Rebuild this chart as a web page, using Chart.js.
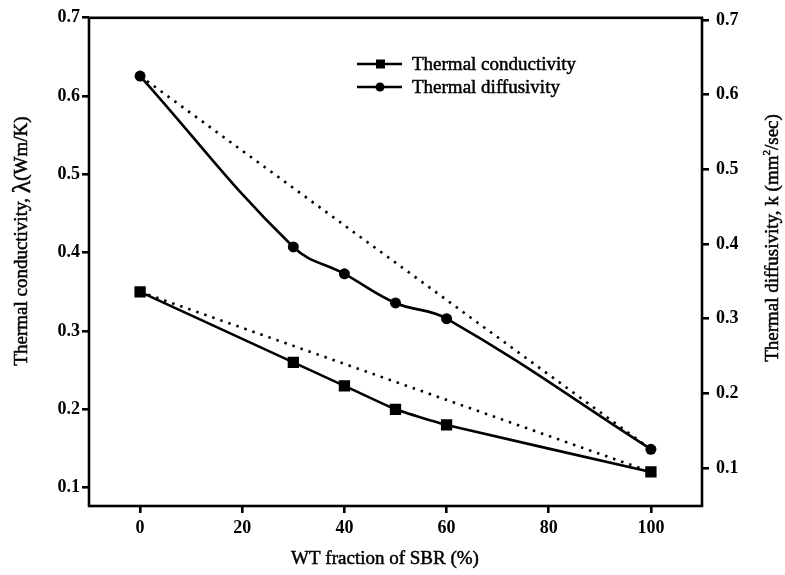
<!DOCTYPE html>
<html>
<head>
<meta charset="utf-8">
<script src="https://cdn.jsdelivr.net/npm/chart.js@4.4.1/dist/chart.umd.min.js"></script>
<style>
html,body{margin:0;padding:0;background:#fff}
#wrap{width:785px;height:575px}
</style>
</head>
<body>
<div id="wrap"><canvas id="chart" width="785" height="575"></canvas></div>
<script>
// ── data ──
const wtFraction   = [0, 30, 40, 50, 60, 100];
const conductivity = [0.35, 0.26, 0.23, 0.20, 0.18, 0.12];
const diffusivity  = [0.625, 0.396, 0.36, 0.321, 0.30, 0.125];
const xTicks     = [0, 20, 40, 60, 80, 100];
const leftTicks  = [0.1, 0.2, 0.3, 0.4, 0.5, 0.6, 0.7];
const rightTicks = [0.1, 0.2, 0.3, 0.4, 0.5, 0.6, 0.7];
const seriesNames = ['Thermal conductivity', 'Thermal diffusivity'];

const SERIF = '"Liberation Serif", "Times New Roman", serif';
const tickFont = { family: SERIF, size: 18, weight: 'bold' };
const TXT = '19px ' + SERIF;

const pts = (xs, ys) => xs.map((x, i) => ({ x, y: ys[i] }));
// straight mixing-rule line between the two pure components
const ends = ys => [{ x: wtFraction[0], y: ys[0] }, { x: wtFraction[wtFraction.length-1], y: ys[ys.length-1] }];

function fixTicks(list) {
  return s => { s.ticks = list.map(v => ({ value: v })); };
}

// frame round the plot
const framePlugin = {
  id: 'frame',
  afterDatasetsDraw(chart) {
    const a = chart.chartArea, ctx = chart.ctx;
    ctx.save();
    ctx.strokeStyle = '#000'; ctx.lineWidth = 2.6;
    ctx.strokeRect(a.left, a.top, a.right - a.left, a.bottom - a.top);
    ctx.restore();
  }
};

// text a little heavier, like the scanned original
function ink(ctx, t, x, y) {
  ctx.fillText(t, x, y);
  ctx.lineWidth = 0.5;
  ctx.strokeText(t, x, y);
}

// axis titles with the λ and the superscript 2
function drawRuns(ctx, runs, cx, cy) {
  let total = 0;
  runs.forEach(r => { ctx.font = r.font; total += ctx.measureText(r.t).width; });
  let x = cx - total / 2;
  runs.forEach(r => {
    ctx.font = r.font;
    ink(ctx, r.t, x, cy + (r.dy || 0));
    x += ctx.measureText(r.t).width;
  });
}
const titlePlugin = {
  id: 'titles',
  afterDraw(chart) {
    const ctx = chart.ctx;
    ctx.save();
    ctx.fillStyle = '#000'; ctx.strokeStyle = '#000';
    ctx.textBaseline = 'middle';
    ctx.textAlign = 'left';
    drawRuns(ctx, [{ t: 'WT fraction of SBR (%)', font: TXT }], 385, 559);

    ctx.save();
    ctx.translate(22, 241);
    ctx.rotate(-Math.PI / 2);
    drawRuns(ctx, [
      { t: 'Thermal conductivity, ', font: TXT },
      { t: 'λ', font: '26px ' + SERIF, dy: 1 },
      { t: '(Wm/K)', font: TXT }
    ], 0, 0);
    ctx.restore();

    ctx.save();
    ctx.translate(773, 238);
    ctx.rotate(-Math.PI / 2);
    drawRuns(ctx, [
      { t: 'Thermal diffusivity, k (mm', font: TXT },
      { t: '2', font: '11px ' + SERIF, dy: -6 },
      { t: '/sec)', font: TXT }
    ], 0, 0);
    ctx.restore();
    ctx.restore();
  }
};

// legend: line with marker, then label
const legendPlugin = {
  id: 'legendBox',
  afterDraw(chart) {
    const ctx = chart.ctx;
    const rows = [{ y: 64, style: 'rect' }, { y: 87, style: 'circle' }];
    ctx.save();
    ctx.strokeStyle = '#000'; ctx.fillStyle = '#000';
    rows.forEach((r, i) => {
      ctx.lineWidth = 2.6;
      ctx.beginPath(); ctx.moveTo(357, r.y); ctx.lineTo(402, r.y); ctx.stroke();
      if (r.style === 'rect') ctx.fillRect(376, r.y - 4.5, 9, 9);
      else { ctx.beginPath(); ctx.arc(380, r.y, 4.5, 0, Math.PI * 2); ctx.fill(); }
      ctx.font = TXT;
      ctx.textBaseline = 'middle';
      ink(ctx, seriesNames[i], 412, r.y + 1);
    });
    ctx.restore();
  }
};

const axisCommon = {
  type: 'linear',
  border: { display: false },
  grid: { drawOnChartArea: false, drawTicks: true, tickLength: 7, tickWidth: 2.6, lineWidth: 2.6, color: '#000' },
};

new Chart(document.getElementById('chart'), {
  type: 'line',
  data: {
    datasets: [
      {
        label: seriesNames[0], yAxisID: 'y',
        data: pts(wtFraction, conductivity),
        borderColor: '#000', backgroundColor: '#000', borderWidth: 2.6,
        pointStyle: 'rect', pointRadius: 8, pointBorderWidth: 0,
        tension: 0.15
      },
      {
        label: seriesNames[1], yAxisID: 'y2',
        data: pts(wtFraction, diffusivity),
        borderColor: '#000', backgroundColor: '#000', borderWidth: 2.6,
        pointStyle: 'circle', pointRadius: 5.5, pointBorderWidth: 0,
        tension: 0.4
      },
      {
        label: 'rule-cond', yAxisID: 'y',
        data: ends(conductivity),
        borderColor: '#000', borderWidth: 2.6, borderDash: [2.5, 6], pointRadius: 0
      },
      {
        label: 'rule-diff', yAxisID: 'y2',
        data: ends(diffusivity),
        borderColor: '#000', borderWidth: 2.6, borderDash: [2.5, 6], pointRadius: 0
      }
    ]
  },
  options: {
    responsive: false,
    animation: false,
    devicePixelRatio: 1,
    layout: { padding: { top: 16, left: 0, right: 0, bottom: 0 } },
    plugins: { legend: { display: false }, tooltip: { enabled: false } },
    scales: {
      x: {
        ...axisCommon, position: 'bottom', min: -10, max: 110,
        afterBuildTicks: fixTicks(xTicks),
        afterFit: s => { s.height = 69; },
        ticks: { font: tickFont, color: '#000', padding: 5, maxRotation: 0 }
      },
      y: {
        ...axisCommon, position: 'left', min: 0.0765, max: 0.7,
        afterBuildTicks: fixTicks(leftTicks),
        afterFit: s => { s.width = 89; },
        ticks: { font: tickFont, color: '#000', padding: 2, callback: v => v.toFixed(1) }
      },
      y2: {
        ...axisCommon, position: 'right', min: 0.049, max: 0.703,
        afterBuildTicks: fixTicks(rightTicks),
        afterFit: s => { s.width = 83; },
        ticks: { font: tickFont, color: '#000', padding: 7, callback: v => v.toFixed(1) }
      }
    }
  },
  plugins: [framePlugin, titlePlugin, legendPlugin]
});
</script>
</body>
</html>
